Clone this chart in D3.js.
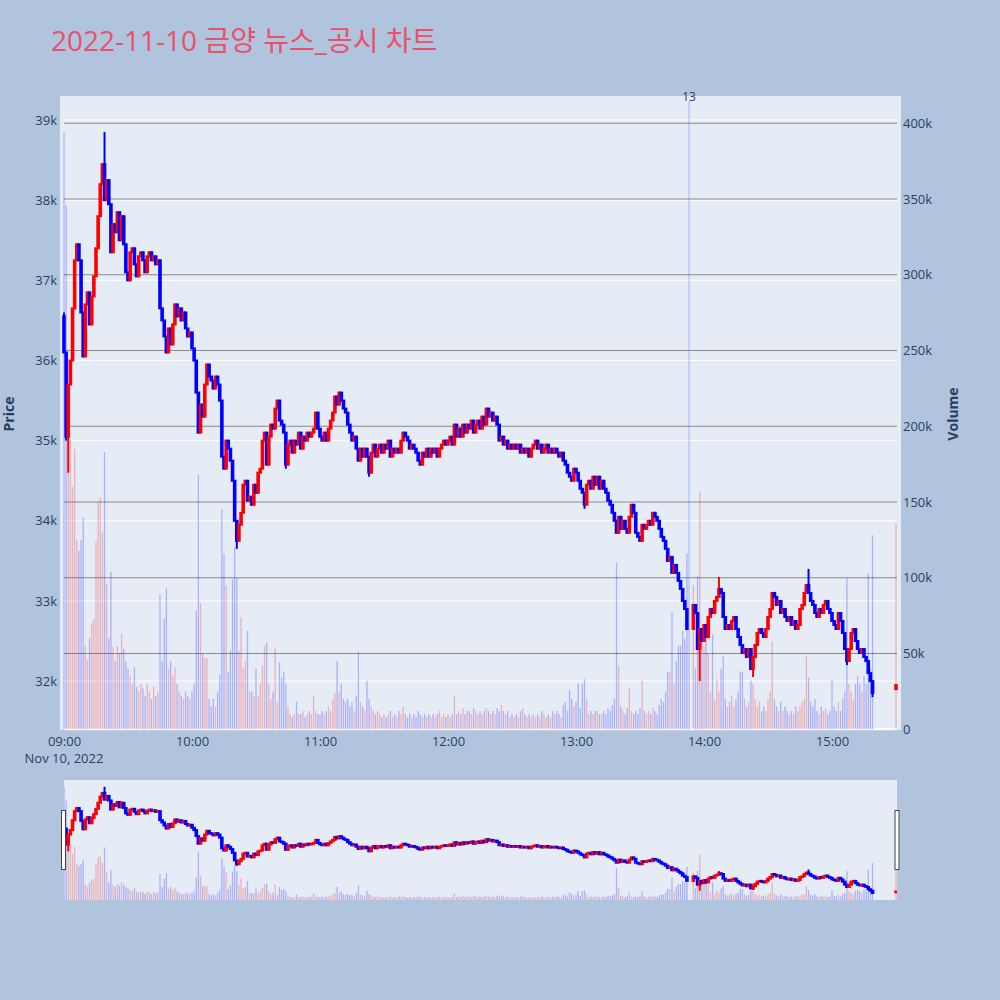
<!DOCTYPE html>
<html>
<head>
<meta charset="utf-8">
<script src="https://cdn.jsdelivr.net/npm/d3@7"></script>
<style>
  body { margin: 0; background: #b0c4de; }
  svg { display: block; font-family: "Open Sans", "Noto Sans CJK KR", sans-serif; }
</style>
</head>
<body>
<svg id="chart"></svg>
<script>
// Data: 1-minute closes from 09:00 (null = no trade, VI halt at 13:53-13:54)
const closes = [
  36100, 35050, 35700, 36000, 36650, 37250, 37450, 37250, 36600, 36050,
  36700, 36850, 36450, 36800, 37050, 37400, 37800, 38200, 38450, 38000,
  38250, 37950, 37350, 37700, 37600, 37850, 37500, 37800, 37450, 37100,
  37000, 37350, 37400, 37200, 37050, 37300, 37350, 37250, 37100, 37300,
  37350, 37250, 37300, 37200, 37250, 36650, 36500, 36300, 36100, 36400,
  36200, 36450, 36700, 36550, 36650, 36500, 36600, 36400, 36300, 36350,
  36150, 36000, 35600, 35100, 35450, 35300, 35700, 35950, 35800, 35750,
  35650, 35800, 35700, 35500, 34800, 34650, 35000, 34900, 34750, 34500,
  34000, 33750, 33950, 34100, 34450, 34500, 34250, 34300, 34200, 34450,
  34350, 34600, 34650, 35000, 35100, 34700, 35050, 35200, 35150, 35400,
  35500, 35250, 35200, 35100, 34700, 34950, 35000, 34850, 35000, 34950,
  35100, 34900, 35050, 35000, 35100, 35050, 35100, 35150, 35350, 35150,
  35050, 35000, 35100, 35000, 35150, 35250, 35350, 35550, 35450, 35600,
  35500, 35400, 35350, 35200, 35100, 35000, 35050, 34900, 34750, 34900,
  34800, 34900, 34800, 34600, 34850, 34950, 34800, 34900, 34950, 34850,
  34950, 34900, 35000, 34800, 34900, 34850, 34900, 34850, 35000, 35100,
  35050, 35000, 34900, 34950, 34900, 34850, 34750, 34700, 34850, 34800,
  34900, 34800, 34900, 34850, 34900, 34800, 34900, 34950, 35000, 34950,
  35000, 35050, 34950, 35200, 35050, 35150, 35050, 35200, 35100, 35200,
  35150, 35250, 35100, 35200, 35250, 35150, 35300, 35200, 35400, 35300,
  35350, 35250, 35300, 35200, 35000, 35050, 34950, 35000, 34900, 34950,
  34900, 34950, 34900, 34950, 34850, 34900, 34850, 34900, 34800, 34900,
  34950, 35000, 34900, 34950, 34850, 34900, 34950, 34850, 34900, 34850,
  34900, 34850, 34800, 34850, 34750, 34700, 34600, 34550, 34500, 34650,
  34600, 34500, 34400, 34350, 34200, 34450, 34500, 34400, 34550, 34450,
  34550, 34400, 34500, 34400, 34350, 34250, 34200, 34100, 34000, 33850,
  34050, 33900, 34000, 33900, 33850, 34050, 34200, 34100, 33850, 33800,
  33750, 33950, 33900, 33950, 34000, 33950, 34100, 34050, 34000, 33900,
  33800, 33750, 33650, 33500, 33550, 33350, 33450, 33350, 33250, 33150,
  33000, 32900, 32650, null, null, 32950, 32850, 32400, 32650, 32500,
  32700, 32550, 32800, 32900, 32850, 33000, 33050, 33150, 33100, 32800,
  32650, 32700, 32650, 32750, 32800, 32650, 32550, 32450, 32350, 32400,
  32300, 32400, 32150, 32300, 32450, 32600, 32650, 32600, 32550, 32650,
  32800, 32900, 33100, 33050, 32950, 33000, 32850, 32900, 32800, 32750,
  32800, 32700, 32750, 32650, 32700, 32900, 32950, 33100, 33200, 33100,
  33000, 32950, 32850, 32800, 32900, 32850, 32950, 33000, 32900, 32850,
  32750, 32700, 32650, 32850, 32750, 32600, 32400, 32250, 32400, 32600,
  32650, 32500, 32400, 32350, 32400, 32300, 32250, 32100, 32000, 31850
];

// Volume per minute, in thousands of shares
const volumes = [
  394, 346, 175, 191, 160, 185, 125, 118, 125, 140,
  55, 46, 60, 70, 73, 124, 150, 153, 130, 183,
  96, 60, 104, 54, 45, 55, 50, 63, 53, 45,
  40, 35, 30, 41, 28, 25, 30, 27, 22, 30,
  25, 20, 28, 22, 25, 89, 45, 73, 93, 40,
  45, 35, 41, 30, 25, 22, 20, 25, 22, 20,
  25, 30, 78, 168, 83, 50, 47, 47, 20, 15,
  20, 15, 25, 36, 145, 116, 95, 38, 52, 99,
  120, 100, 52, 74, 40, 45, 65, 25, 25, 22,
  40, 22, 30, 42, 55, 57, 30, 20, 25, 54,
  18, 44, 34, 38, 30, 15, 10, 8, 10, 18,
  10, 10, 12, 8, 10, 12, 10, 22, 12, 10,
  10, 12, 10, 12, 15, 12, 20, 24, 45, 25,
  30, 20, 18, 20, 15, 18, 12, 22, 51, 18,
  15, 12, 32, 20, 15, 12, 10, 12, 10, 8,
  10, 8, 10, 12, 8, 10, 8, 12, 10, 15,
  10, 8, 10, 8, 10, 8, 12, 10, 8, 10,
  8, 10, 8, 10, 8, 10, 12, 8, 10, 8,
  10, 8, 10, 22, 10, 12, 10, 14, 10, 12,
  12, 10, 14, 12, 10, 12, 10, 12, 14, 12,
  10, 12, 10, 14, 12, 16, 12, 10, 12, 8,
  10, 8, 10, 8, 12, 14, 10, 8, 10, 8,
  10, 8, 10, 8, 12, 10, 8, 10, 8, 12,
  10, 12, 10, 8, 16, 18, 12, 26, 20, 15,
  18, 30, 14, 30, 33, 20, 10, 12, 10, 12,
  12, 10, 10, 12, 10, 14, 12, 16, 20, 110,
  42, 15, 12, 10, 14, 27, 12, 10, 12, 10,
  14, 32, 12, 10, 12, 10, 14, 12, 10, 16,
  20, 18, 25, 38, 38, 77, 30, 45, 55, 55,
  65, 60, 116, null, null, 95, 40, 101, 157, 60,
  55, 60, 50, 25, 63, 20, 33, 25, 40, 48,
  20, 15, 18, 22, 15, 20, 25, 38, 38, 20,
  15, 18, 32, 30, 20, 15, 18, 12, 15, 12,
  20, 25, 58, 20, 15, 12, 18, 12, 15, 12,
  10, 12, 10, 15, 12, 15, 18, 20, 48, 34,
  18, 15, 20, 12, 10, 15, 12, 14, 10, 12,
  33, 15, 12, 18, 12, 20, 25, 100, 30, 25,
  20, 30, 35, 30, 25, 35, 30, 103, 40, 128
];

const firstOpen = 36550;

// Minutes whose wick goes past the body
const wicks = [
  { i: 0, high: 36600 }, { i: 1, low: 35000 }, { i: 2, low: 34600 },
  { i: 19, high: 38850 }, { i: 81, low: 33650 }, { i: 104, low: 34650 },
  { i: 143, low: 34550 }, { i: 244, low: 34150 }, { i: 298, low: 32000 },
  { i: 307, high: 33300 }, { i: 323, low: 32050 }, { i: 349, high: 33400 },
  { i: 367, low: 32200 }, { i: 379, low: 31800 }
];

// Closing auction
const auction = { time: "15:30", open: 31900, close: 31950, volume: 136 };

const priceTicks = [32000, 33000, 34000, 35000, 36000, 37000, 38000, 39000];
const volumeTicks = [0, 50, 100, 150, 200, 250, 300, 350, 400];
const hourTicks = ["09:00", "10:00", "11:00", "12:00", "13:00", "14:00", "15:00"];
const newsMarkers = [{ time: "13:53", count: 13 }];

const titleText = "2022-11-10 금양 뉴스_공시 차트";
const day = "2022-11-10";

// Dimensions
const width = 1000;
const height = 1000;
const plot = { left: 60, right: 901, top: 96, bottom: 730 };
const slider = { left: 64, right: 897, top: 780, bottom: 900 };
const textColor = "#2a3f5f";
const upColor = "#ff0000";
const downColor = "#0000ff";

const parseTime = d3.timeParse("%Y-%m-%d %H:%M");
const start = parseTime(day + " 09:00");

// Build candles: open is the previous minute's close
const candles = [];
let prevClose = firstOpen;
closes.forEach((c, i) => {
    if (c === null) return;
    const w = wicks.find(d => d.i === i) || {};
    const o = prevClose;
    candles.push({
        t: d3.timeMinute.offset(start, i),
        open: o,
        close: c,
        high: Math.max(o, c, w.high || 0),
        low: Math.min(o, c, w.low || Infinity),
        volume: volumes[i] * 1000
    });
    prevClose = c;
});
candles.push({
    t: parseTime(day + " " + auction.time),
    open: auction.open,
    close: auction.close,
    high: Math.max(auction.open, auction.close),
    low: Math.min(auction.open, auction.close),
    volume: auction.volume * 1000
});

const colorOf = d => d.close >= d.open ? upColor : downColor;

// Scales
const x = d3.scaleTime()
    .domain([start, parseTime(day + " 15:30")])
    .range([64, 896]);
const yPrice = d3.scaleLinear().domain([31390, 39300]).range([plot.bottom, plot.top]);
const yVol = d3.scaleLinear().domain([-500, 418000]).range([plot.bottom, plot.top]);
const yPriceS = d3.scaleLinear().domain([31390, 39300]).range([slider.bottom, slider.top]);
const yVolS = d3.scaleLinear().domain([-500, 418000]).range([slider.bottom, slider.top]);

const svg = d3.select("#chart")
    .attr("width", width)
    .attr("height", height);

svg.append("rect").attr("width", width).attr("height", height).attr("fill", "#b0c4de");

// Title
svg.append("text")
    .attr("x", 51)
    .attr("y", 51)
    .attr("fill", "#eb5069")
    .style("font-size", "28px")
    .text(titleText);

// Clip paths
const defs = svg.append("defs");
defs.append("clipPath").attr("id", "clipMain").append("rect")
    .attr("x", plot.left).attr("y", plot.top)
    .attr("width", plot.right - plot.left).attr("height", plot.bottom - plot.top);
defs.append("clipPath").attr("id", "clipSlider").append("rect")
    .attr("x", slider.left).attr("y", slider.top)
    .attr("width", slider.right - slider.left).attr("height", slider.bottom - slider.top);

// Plot background
svg.append("rect")
    .attr("x", plot.left).attr("y", plot.top)
    .attr("width", plot.right - plot.left).attr("height", plot.bottom - plot.top)
    .attr("fill", "#e5ecf6");

// Grid lines: white for price, grey for volume
svg.append("g").selectAll("line")
    .data(priceTicks)
    .join("line")
    .attr("x1", 64).attr("x2", 897)
    .attr("y1", d => yPrice(d)).attr("y2", d => yPrice(d))
    .attr("stroke", "#ffffff").attr("stroke-width", 1);

svg.append("g").selectAll("line")
    .data(volumeTicks.filter(d => d > 0))
    .join("line")
    .attr("x1", 64).attr("x2", 897)
    .attr("y1", d => yVol(d * 1000)).attr("y2", d => yVol(d * 1000))
    .attr("stroke", "#8a8a8a").attr("stroke-width", 1);

svg.append("line")
    .attr("x1", 64).attr("x2", 897)
    .attr("y1", yVol(0)).attr("y2", yVol(0))
    .attr("stroke", "#ffffff").attr("stroke-width", 2);

// Volume bars + candles
function drawVolume(g, yv, bottom) {
    g.selectAll(".vol")
        .data(candles)
        .join("rect")
        .attr("class", "vol")
        .attr("x", d => x(d.t) - 0.65)
        .attr("y", d => yv(d.volume))
        .attr("width", 1.3)
        .attr("height", d => bottom - yv(d.volume))
        .attr("fill", colorOf)
        .attr("fill-opacity", 0.25);
}

function drawCandles(g, yp) {
    g.selectAll(".wick")
        .data(candles)
        .join("line")
        .attr("class", "wick")
        .attr("x1", d => x(d.t)).attr("x2", d => x(d.t))
        .attr("y1", d => yp(d.high)).attr("y2", d => yp(d.low))
        .attr("stroke", colorOf)
        .attr("stroke-width", 2);

    g.selectAll(".body")
        .data(candles)
        .join("rect")
        .attr("class", "body")
        .attr("x", d => x(d.t) - 0.8)
        .attr("y", d => yp(Math.max(d.open, d.close)))
        .attr("width", 1.6)
        .attr("height", d => Math.abs(yp(d.open) - yp(d.close)))
        .attr("fill", colorOf)
        .attr("stroke", colorOf)
        .attr("stroke-width", 2);
}

const main = svg.append("g").attr("clip-path", "url(#clipMain)");
drawVolume(main.append("g"), yVol, yVol(0));
drawCandles(main.append("g"), yPrice);

// News marker
const marker = svg.append("g");
marker.selectAll("line")
    .data(newsMarkers)
    .join("line")
    .attr("x1", d => x(parseTime(day + " " + d.time)))
    .attr("x2", d => x(parseTime(day + " " + d.time)))
    .attr("y1", 101).attr("y2", plot.bottom)
    .attr("stroke", "rgba(70,110,255,0.45)")
    .attr("stroke-width", 1);
marker.selectAll("text")
    .data(newsMarkers)
    .join("text")
    .attr("x", d => x(parseTime(day + " " + d.time)))
    .attr("y", 101)
    .attr("text-anchor", "middle")
    .attr("fill", textColor)
    .style("font-size", "12px")
    .text(d => d.count);

// Axes
const leftAxis = svg.append("g")
    .attr("transform", `translate(${plot.left},0)`)
    .call(d3.axisLeft(yPrice).tickValues(priceTicks).tickSize(0).tickPadding(3)
        .tickFormat(d => d / 1000 + "k"));

const rightAxis = svg.append("g")
    .attr("transform", `translate(${plot.right},0)`)
    .call(d3.axisRight(yVol).tickValues(volumeTicks.map(d => d * 1000)).tickSize(0).tickPadding(2)
        .tickFormat(d => d === 0 ? "0" : d / 1000 + "k"));

const bottomAxis = svg.append("g")
    .attr("transform", `translate(0,${plot.bottom})`)
    .call(d3.axisBottom(x)
        .tickValues(hourTicks.map(h => parseTime(day + " " + h)))
        .tickSize(0).tickPadding(7)
        .tickFormat(d3.timeFormat("%H:%M")));

[leftAxis, rightAxis, bottomAxis].forEach(a => {
    a.select(".domain").remove();
    a.selectAll("text")
        .attr("fill", textColor)
        .style("font-size", "13px")
        .style("font-family", "'Open Sans', sans-serif");
});

svg.append("text")
    .attr("x", x(start))
    .attr("y", 763)
    .attr("text-anchor", "middle")
    .attr("fill", textColor)
    .style("font-size", "13px")
    .text("Nov 10, 2022");

// Axis titles
svg.append("text")
    .attr("transform", "translate(14,414) rotate(-90)")
    .attr("text-anchor", "middle")
    .attr("fill", textColor)
    .style("font-size", "14px")
    .style("font-weight", "bold")
    .text("Price");

svg.append("text")
    .attr("transform", "translate(958,414) rotate(-90)")
    .attr("text-anchor", "middle")
    .attr("fill", textColor)
    .style("font-size", "14px")
    .style("font-weight", "bold")
    .text("Volume");

// Range slider
svg.append("rect")
    .attr("x", slider.left).attr("y", slider.top)
    .attr("width", slider.right - slider.left).attr("height", slider.bottom - slider.top)
    .attr("fill", "#e5ecf6");

const mini = svg.append("g").attr("clip-path", "url(#clipSlider)");
drawVolume(mini.append("g"), yVolS, slider.bottom);
drawCandles(mini.append("g"), yPriceS);

// Slider grabbers
[slider.left - 2.5, slider.right - 2].forEach(hx => {
    svg.append("rect")
        .attr("x", hx).attr("y", 810.5)
        .attr("width", 4).attr("height", 59)
        .attr("fill", "#ffffff")
        .attr("stroke", "#444444")
        .attr("stroke-width", 1);
});
</script>
</body>
</html>
